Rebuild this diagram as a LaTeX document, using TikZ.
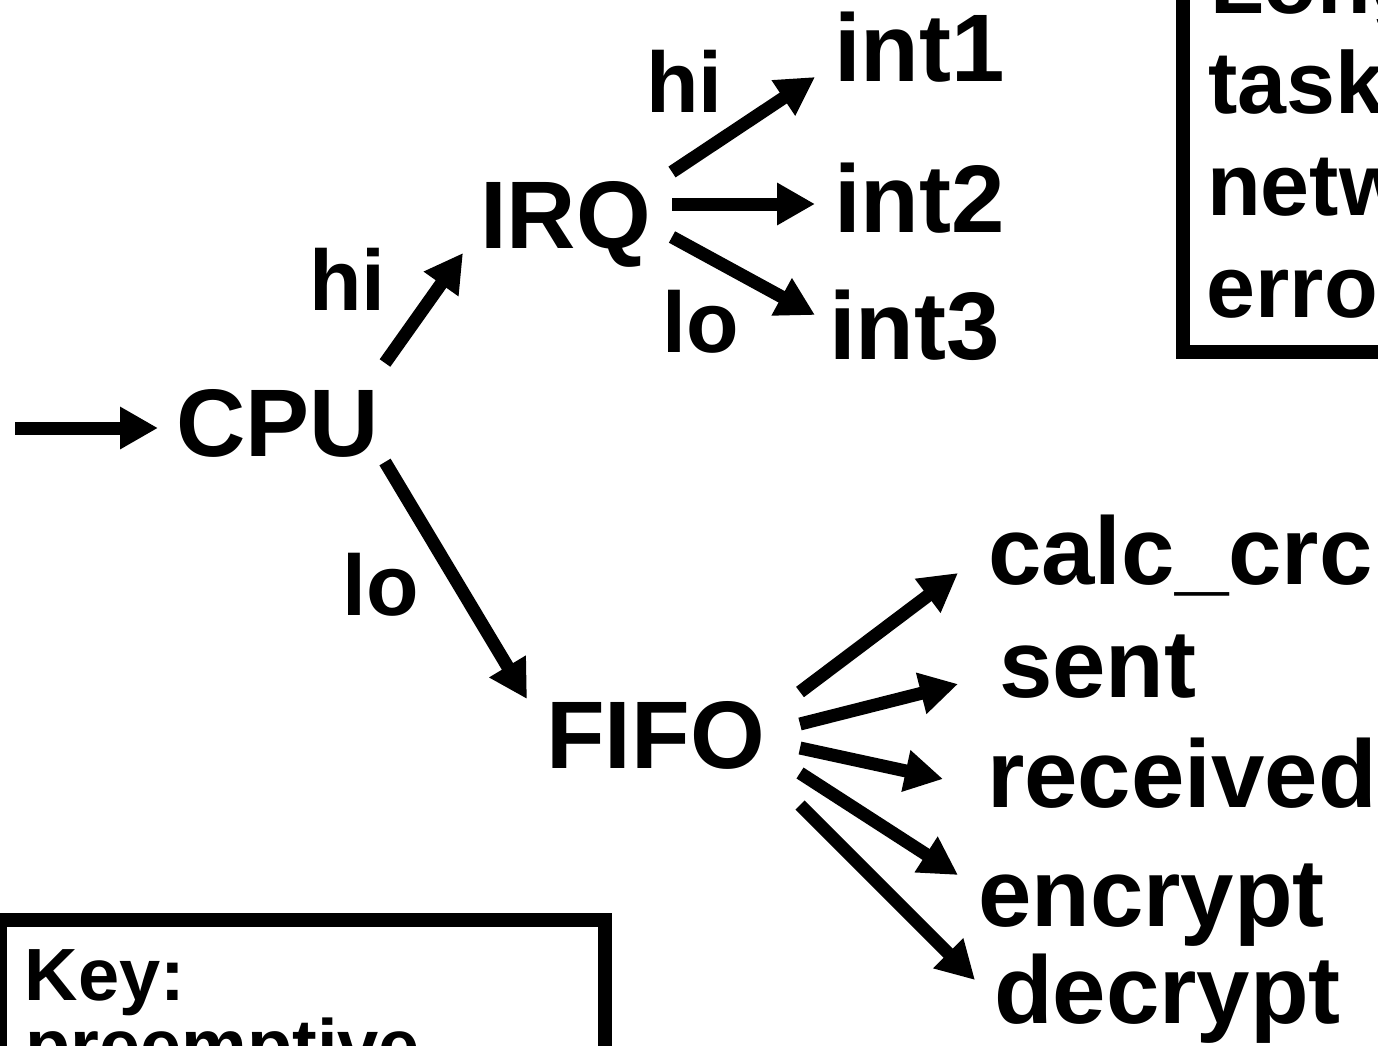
\documentclass[tikz,border=0pt]{standalone}
\usepackage{fontspec}
\setmainfont{Liberation Sans}
\usetikzlibrary{arrows.meta}
\tikzset{
  bigtxt/.style={font=\fontsize{96}{100}\selectfont\bfseries, inner sep=0pt, anchor=base west},
  lbltxt/.style={font=\fontsize{86}{90}\selectfont\bfseries, inner sep=0pt, anchor=base west},
  boxtxt/.style={font=\fontsize{88}{90}\selectfont\bfseries, inner sep=0pt, anchor=base west},
  keytxt/.style={font=\fontsize{74}{76}\selectfont\bfseries, inner sep=0pt, anchor=base west},
  conn/.style={line width=13pt, -{Triangle[length=38pt,width=40pt]}},
  frame/.style={line width=13.5pt},
}
\begin{document}
\begin{tikzpicture}[x=1pt,y=-1pt]
\useasboundingbox (0,0) rectangle (1378,1045);
\clip (0,0) rectangle (1378,1045);
% text nodes
\node[bigtxt] (cpu)  at (176,456) {CPU};
\node[bigtxt] (irq)  at (480,248) {IRQ};
\node[bigtxt] (int1) at (834,81)  {int1};
\node[bigtxt] (int2) at (834,232) {int2};
\node[bigtxt] (int3) at (829,359) {int3};
\node[bigtxt] (fifo) at (546,768) {FIFO};
\node[bigtxt] (crc)  at (988,584) {calc\_crc};
\node[bigtxt] (sent) at (999,697) {sent};
\node[bigtxt] (recv) at (987,807) {received};
\node[bigtxt] (enc)  at (978,926) {encrypt};
\node[bigtxt] (dec)  at (994,1023) {decrypt};
\node[lbltxt] (hitop) at (646,112) {hi};
\node[lbltxt] (loirq) at (662,352) {lo};
\node[lbltxt] (hicpu) at (309,310) {hi};
\node[lbltxt] (locpu) at (342,615) {lo};
% boxes
\draw[frame] (1183,-60) rectangle (1420,352);
\node[boxtxt] (b1) at (1210,13)  {Long};
\node[boxtxt] (b2) at (1208,113) {tasks};
\node[boxtxt] (b3) at (1207,215) {network};
\node[boxtxt] (b4) at (1206.5,317) {errors};
\draw[frame] (0,920) rectangle (605,1120);
\node[keytxt] (key) at (24.5,1000) {Key:};
\node[keytxt] (pre) at (25,1071) {preemptive};
% connector end points
\coordinate (in)   at (15,428);
\coordinate (cpuIn) at (158,428);
\coordinate (cpuA) at (385,363);
\coordinate (irqIn) at (463,253);
\coordinate (cpuB) at (385,462);
\coordinate (fifoIn) at (527,699);
\coordinate (irqA) at (672,172);
\coordinate (i1) at (815,77);
\coordinate (irqB) at (672,204);
\coordinate (i2) at (815,204);
\coordinate (irqC) at (672,237);
\coordinate (i3) at (815,315);
\coordinate (fA) at (800,692);
\coordinate (tA) at (958,573);
\coordinate (fB) at (800,724);
\coordinate (tB) at (958,684);
\coordinate (fC) at (800,748);
\coordinate (tC) at (943,779);
\coordinate (fD) at (800,773);
\coordinate (tD) at (958,875);
\coordinate (fE) at (800,805);
\coordinate (tE) at (975,980);
% connectors
\draw[conn] (in) -- (cpuIn);
\draw[conn] (cpuA) -- (irqIn);
\draw[conn] (cpuB) -- (fifoIn);
\draw[conn] (irqA) -- (i1);
\draw[conn] (irqB) -- (i2);
\draw[conn] (irqC) -- (i3);
\draw[conn] (fA) -- (tA);
\draw[conn] (fB) -- (tB);
\draw[conn] (fC) -- (tC);
\draw[conn] (fD) -- (tD);
\draw[conn] (fE) -- (tE);
\end{tikzpicture}
\end{document}
